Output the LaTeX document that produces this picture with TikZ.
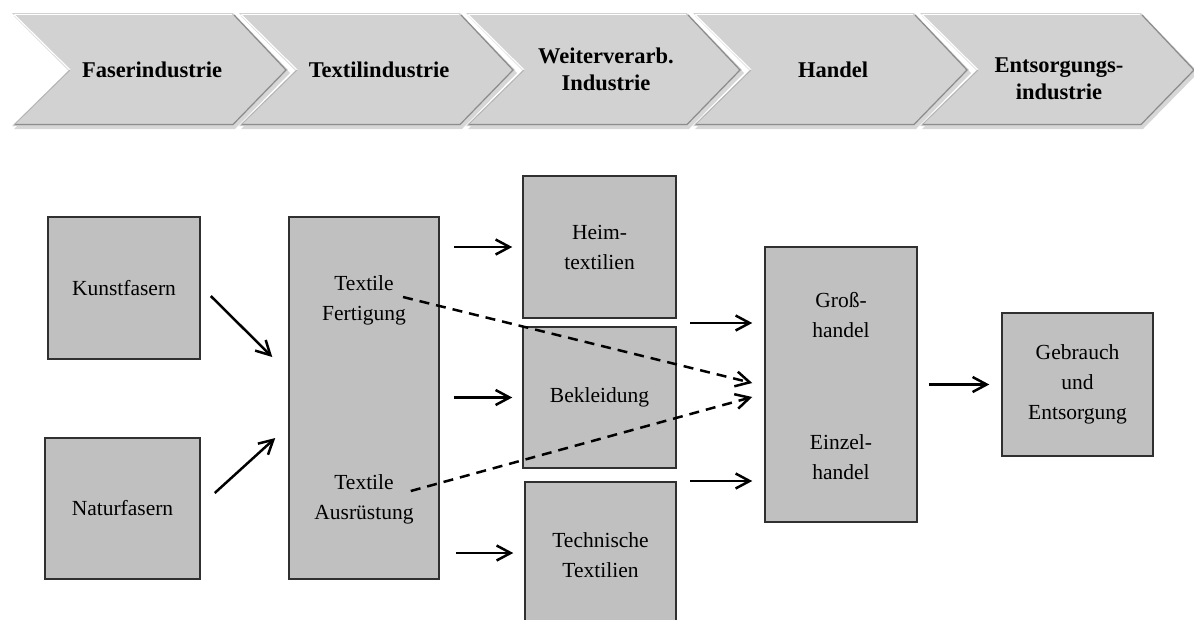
\documentclass[tikz,border=0pt]{standalone}
\usepackage{fontspec}
\setmainfont{Liberation Serif}
\usetikzlibrary{arrows.meta,calc}
\definecolor{boxgray}{HTML}{C0C0C0}
\definecolor{chevgray}{HTML}{D2D2D2}
\definecolor{boxline}{HTML}{303030}
\begin{document}
\begin{tikzpicture}[x=1pt,y=-1pt,
  box/.style={draw=boxline, line width=1.5pt, fill=boxgray, inner sep=0pt, align=center,
              font=\fontsize{21.5}{30}\selectfont},
  txt/.style={align=center, font=\fontsize{21.5}{30}\selectfont, inner sep=0pt},
  htxt/.style={align=center, font=\fontsize{22.5}{27}\selectfont\bfseries, inner sep=0pt},
  arr/.style={line width=2.5pt, -{Straight Barb[length=14pt,width=15pt,line width=2.5pt]}},
  darr/.style={arr, dash pattern=on 10pt off 7pt},
]
\useasboundingbox (0,0) rectangle (1194,619);

% ---------- header chevrons ----------
\foreach \s in {12,239,466,693,920}{
  \fill[black!35, opacity=0.45] (\s+2,16) -- (\s+223,16) -- (\s+278,73) -- (\s+223,129) -- (\s+2,129) -- (\s+59,73) -- cycle;
  \fill[chevgray] (\s,13) -- (\s+221,13) -- (\s+276,70) -- (\s+221,126) -- (\s,126) -- (\s+57,70) -- cycle;
  \draw[white, line width=1.6pt] (\s+3,14.5) -- (\s+220,14.5);
  \draw[white, line width=1.2pt] (\s+2,14.5) -- (\s+58,70);
  \draw[black!45, line width=1.2pt] (\s+222,15) -- (\s+274,70) -- (\s+221,124.5) -- (\s+2,124.5);
  \draw[black!30, line width=0.8pt] (\s+58,70) -- (\s+2,125);
}
\node[htxt] (h1) at (152,70) {Faserindustrie};
\node[htxt] (h2) at (379,70) {Textilindustrie};
\node[htxt] (h3) at (606,69) {Weiterverarb.\\Industrie};
\node[htxt] (h4) at (833,70) {Handel};
\node[htxt] (h5) at (1059,79) {Entsorgungs-\\industrie};

% ---------- boxes ----------
\node[box, minimum width=152pt, minimum height=142pt] (kunst) at (124,288) {Kunstfasern};
\node[box, minimum width=155pt, minimum height=141pt] (natur) at (122.5,508.5) {Naturfasern};
\node[box, minimum width=150pt, minimum height=362pt] (textile) at (364,398) {};
\node[txt] (fert) at (364,300) {Textile\\Fertigung};
\node[txt] (aus) at (364,499) {Textile\\Ausrüstung};
\node[box, minimum width=153pt, minimum height=142pt] (heim) at (599.5,247) {Heim-\\textilien};
\node[box, minimum width=153pt, minimum height=141pt] (bekl) at (599.5,397.5) {Bekleidung};
\node[box, minimum width=151pt, minimum height=148pt] (tech) at (600.5,556) {};
\node[txt] (techt) at (600.5,555) {Technische\\Textilien};
\node[box, minimum width=152pt, minimum height=275pt] (handel) at (841,384.5) {};
\node[txt] (gross) at (841,315) {Groß-\\handel};
\node[txt] (einzel) at (841,457) {Einzel-\\handel};
\node[box, minimum width=151pt, minimum height=143pt] (geb) at (1077.5,384.5) {Gebrauch\\und\\Entsorgung};

% ---------- connectors ----------
\draw[arr] ($(kunst.east)+(10,8)$) -- ($(textile.west)+(-16,-41)$);
\draw[arr] ($(natur.east)+(14,-15.5)$) -- ($(textile.west)+(-13,40)$);
\draw[arr] ([xshift=14pt]textile.east |- heim.west) -- ([xshift=-10pt]heim.west);
\draw[arr] ([xshift=14pt]textile.east |- bekl.west) -- ([xshift=-10pt]bekl.west);
\draw[arr] ($(textile.east |- tech.west)+(16,-3)$) -- ($(tech.west)+(-11,-3)$);
\draw[arr] ($(handel.west)+(-74,-61.5)$) -- ($(handel.west)+(-12,-61.5)$);
\draw[arr] ($(handel.west)+(-74,96.5)$) -- ($(handel.west)+(-12,96.5)$);
\draw[darr] ($(fert.east)+(-3,-3)$) -- ($(handel.west)+(-12,-1.5)$);
\draw[darr] ($(aus.east)+(-3,-8)$) -- ($(handel.west)+(-12,12.5)$);
\draw[arr] ([xshift=11pt]handel.east) -- ([xshift=-12pt]geb.west);
\end{tikzpicture}
\end{document}
